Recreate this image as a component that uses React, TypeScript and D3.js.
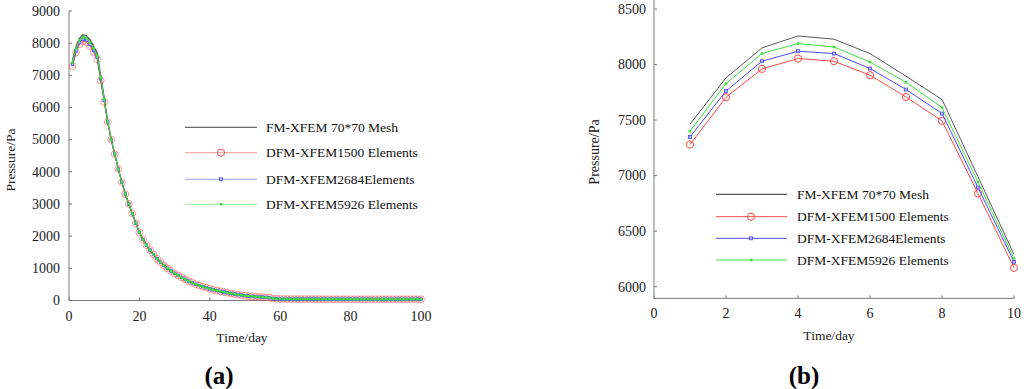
import React from "react";
import * as d3 from "d3";

// ---------- data ----------
const daysZoom = [1, 2, 3, 4, 5, 6, 7, 8, 9, 10];
const fmFirst = [7463, 7880, 8150, 8257, 8228, 8099, 7895, 7685, 6990, 6290];
const dfm1500First = [7280, 7706, 7961, 8054, 8030, 7904, 7708, 7493, 6839, 6170];
const dfm2684First = [7348, 7762, 8030, 8120, 8099, 7964, 7775, 7559, 6893, 6224];
const dfm5926First = [7400, 7829, 8099, 8189, 8158, 8023, 7841, 7613, 6943, 6254];

// days 11..100 (series coincide at this scale)
const tailDays = [
  11, 12, 13, 14, 15, 16, 17, 18, 19, 20, 21, 22, 23, 24, 25, 26, 27, 28, 29, 30,
  31, 32, 33, 34, 35, 36, 37, 38, 39, 40, 41, 42, 43, 44, 45, 46, 47, 48, 49, 50,
  51, 52, 53, 54, 55, 56, 57, 58, 59, 60, 61, 62, 63, 64, 65, 66, 67, 68, 69, 70,
  71, 72, 73, 74, 75, 76, 77, 78, 79, 80, 81, 82, 83, 84, 85, 86, 87, 88, 89, 90,
  91, 92, 93, 94, 95, 96, 97, 98, 99, 100,
];
const tailValues = [
  5550, 5000, 4550, 4090, 3680, 3310, 3000, 2700, 2400, 2120,
  1900, 1720, 1570, 1430, 1300, 1190, 1090, 1000, 920, 845,
  780, 715, 655, 600, 550, 505, 465, 428, 395, 365,
  336, 310, 286, 262, 240, 220, 200, 182, 166, 150,
  138, 127, 118, 110, 103, 96, 88, 60, 52, 48,
  47, 46, 46, 45, 45, 44, 44, 44, 43, 43,
  43, 42, 42, 42, 42, 41, 41, 41, 41, 41,
  40, 40, 40, 40, 40, 40, 40, 40, 40, 40,
  39, 39, 39, 39, 39, 39, 39, 39, 39, 39,
];

const leftXTicks = [0, 20, 40, 60, 80, 100];
const leftYTicks = [0, 1000, 2000, 3000, 4000, 5000, 6000, 7000, 8000, 9000];
const rightXTicks = [0, 2, 4, 6, 8, 10];
const rightYTicks = [6000, 6500, 7000, 7500, 8000, 8500];

const seriesNames = [
  "FM-XFEM 70*70 Mesh",
  "DFM-XFEM1500 Elements",
  "DFM-XFEM2684Elements",
  "DFM-XFEM5926 Elements",
];
const seriesFirst = [fmFirst, dfm1500First, dfm2684First, dfm5926First];
const colors = ["#5a5a5a", "#ff4a4a", "#4a4aff", "#3fe03f"];
const markers = ["none", "circle", "square", "dot"];

const FONT = "'Liberation Serif', 'Times New Roman', serif";
const AXIS = "#7a7a7a";

type Pt = [number, number];

function Marker({ kind, x, y, color, small }: { kind: string; x: number; y: number; color: string; small?: boolean }) {
  if (kind === "circle") {
    return <circle cx={x} cy={y} r={small ? 3.4 : 3.6} fill="none" stroke={color} strokeWidth={small ? 0.8 : 1} opacity={small ? 0.7 : 1} />;
  }
  if (kind === "square") {
    const s = small ? 2.6 : 3;
    return <rect x={x - s / 2} y={y - s / 2} width={s} height={s} fill="#b8b8ff" stroke={color} strokeWidth={0.8} />;
  }
  if (kind === "dot") {
    const s = small ? 2.6 : 2.6;
    return <rect x={x - s / 2} y={y - s / 2} width={s} height={s} fill={color} stroke="none" />;
  }
  return null;
}

function Legend({ x1, x2, xm, xt, rows, light }: { x1: number; x2: number; xm: number; xt: number; rows: number[]; light?: boolean }) {
  return (
    <g>
      {seriesNames.map((name, i) => (
        <g key={name}>
          <line x1={x1} x2={x2} y1={rows[i]} y2={rows[i]} stroke={colors[i]} strokeWidth={i === 0 ? 1.3 : 1} opacity={light ? (i === 0 ? 0.9 : 0.55) : 1} />
          <Marker kind={markers[i]} x={xm} y={rows[i]} color={colors[i]} />
          <text x={xt} y={rows[i] + 4.5} fontFamily={FONT} fontSize={13.5} fill="#111">{name}</text>
        </g>
      ))}
    </g>
  );
}

export default function App() {
  // ---------- left panel ----------
  const xL = d3.scaleLinear().domain([0, 100]).range([69, 421]);
  const yL = d3.scaleLinear().domain([0, 9000]).range([300.5, 11]);
  const lineL = d3.line<Pt>().x((d) => xL(d[0])).y((d) => yL(d[1]));
  const leftSeries: Pt[][] = seriesFirst.map((first) => [
    ...daysZoom.map((d, i) => [d, first[i]] as Pt),
    ...tailDays.map((d, i) => [d, tailValues[i]] as Pt),
  ]);

  // ---------- right panel ----------
  const xR = d3.scaleLinear().domain([0, 10]).range([654, 1014]);
  const yR = d3.scaleLinear().domain([6000, 8500]).range([286.7, 9]);
  const lineR = d3.line<Pt>().x((d) => xR(d[0])).y((d) => yR(d[1]));
  const rightSeries: Pt[][] = seriesFirst.map((first) => daysZoom.map((d, i) => [d, first[i]] as Pt));
  const yRBottom = yR(5895);
  const yRTop = yR(8580);

  const drawOrderLeft = [1, 2, 0, 3];

  return (
    <svg width={1024} height={389} style={{ position: "absolute", left: 0, top: 0, background: "#fff" }}>
      <rect width={1024} height={389} fill="#fff" />
      {/* ===== LEFT ===== */}
      <g>
        <line x1={xL(0)} x2={xL(0)} y1={yL(0)} y2={yL(9000)} stroke={AXIS} />
        <line x1={xL(0)} x2={xL(100)} y1={yL(0)} y2={yL(0)} stroke={AXIS} />
        {leftYTicks.map((t) => (
          <g key={t}>
            <line x1={xL(0)} x2={xL(0) + 3} y1={yL(t)} y2={yL(t)} stroke={AXIS} />
            <text x={60} y={yL(t) + 4.8} textAnchor="end" fontFamily={FONT} fontSize={14} fill="#222">{t}</text>
          </g>
        ))}
        {leftXTicks.map((t) => (
          <g key={t}>
            <line x1={xL(t)} x2={xL(t)} y1={yL(0)} y2={yL(0) - 3} stroke={AXIS} />
            <text x={xL(t)} y={321} textAnchor="middle" fontFamily={FONT} fontSize={14} fill="#222">{t}</text>
          </g>
        ))}
        <text x={242} y={341.5} textAnchor="middle" fontFamily={FONT} fontSize={13.5} fill="#222">Time/day</text>
        <text transform="translate(15,160) rotate(-90)" textAnchor="middle" fontFamily={FONT} fontSize={13.5} fill="#222">Pressure/Pa</text>

        {drawOrderLeft.map((si) => (
          <g key={si}>
            <path d={lineL(leftSeries[si]) || ""} fill="none" stroke={colors[si]} strokeWidth={si === 0 ? 1.4 : 1} />
            {leftSeries[si].map((p, j) => (
              <Marker key={j} kind={markers[si]} x={xL(p[0])} y={yL(p[1])} color={colors[si]} small />
            ))}
          </g>
        ))}
        <Legend x1={185} x2={257} xm={221} xt={266} rows={[127.3, 152.7, 179.3, 204.3]} light />
        <text x={219} y={384} textAnchor="middle" fontFamily={FONT} fontSize={25} fontWeight="bold" fill="#000">(a)</text>
      </g>

      {/* ===== RIGHT ===== */}
      <g>
        <line x1={xR(0)} x2={xR(0)} y1={yRBottom} y2={yRTop} stroke={AXIS} />
        <line x1={xR(0)} x2={xR(10)} y1={yRBottom} y2={yRBottom} stroke={AXIS} />
        {rightYTicks.map((t) => (
          <g key={t}>
            <line x1={xR(0)} x2={xR(0) + 3} y1={yR(t)} y2={yR(t)} stroke={AXIS} />
            <text x={646} y={yR(t) + 4.8} textAnchor="end" fontFamily={FONT} fontSize={14} fill="#222">{t}</text>
          </g>
        ))}
        {rightXTicks.map((t) => (
          <g key={t}>
            <line x1={xR(t)} x2={xR(t)} y1={yRBottom} y2={yRBottom - 3} stroke={AXIS} />
            <text x={xR(t)} y={318} textAnchor="middle" fontFamily={FONT} fontSize={14} fill="#222">{t}</text>
          </g>
        ))}
        <text x={829} y={339.5} textAnchor="middle" fontFamily={FONT} fontSize={13.5} fill="#222">Time/day</text>
        <text transform="translate(599,152) rotate(-90)" textAnchor="middle" fontFamily={FONT} fontSize={14} fill="#222">Pressure/Pa</text>

        {rightSeries.map((s, si) => (
          <g key={si}>
            <path d={lineR(s) || ""} fill="none" stroke={colors[si]} strokeWidth={1} />
            {s.map((p, j) => (
              <Marker key={j} kind={markers[si]} x={xR(p[0])} y={yR(p[1])} color={colors[si]} />
            ))}
          </g>
        ))}
        <Legend x1={716} x2={787} xm={751} xt={797} rows={[194.3, 216.7, 238.3, 260]} />
        <text x={804} y={384} textAnchor="middle" fontFamily={FONT} fontSize={25} fontWeight="bold" fill="#000">(b)</text>
      </g>
    </svg>
  );
}
